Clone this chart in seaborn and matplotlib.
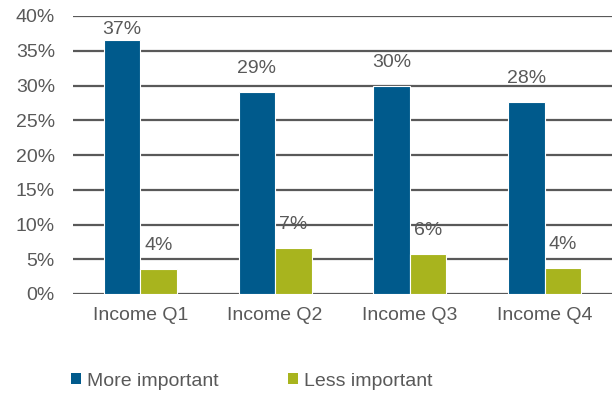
import matplotlib
matplotlib.use("Agg")
import matplotlib.pyplot as plt
from matplotlib.patches import Patch
import seaborn as sns
import pandas as pd

# Share of respondents per income quartile
categories = ["Income Q1", "Income Q2", "Income Q3", "Income Q4"]
more_important = [36.6, 29.0, 29.9, 27.6]
less_important = [3.6, 6.6, 5.8, 3.7]
series_names = ["More important", "Less important"]
y_ticks = [0, 5, 10, 15, 20, 25, 30, 35, 40]

BLUE = "#005A8C"
GREEN = "#A8B41E"
GREY = "#595959"

df = pd.DataFrame({
    "category": categories * 2,
    "value": more_important + less_important,
    "series": [series_names[0]] * 4 + [series_names[1]] * 4,
})

sns.set_theme(style="white")
plt.rcParams["font.family"] = ["Liberation Sans", "DejaVu Sans"]

fig = plt.figure(figsize=(6.14, 3.94), dpi=100)
ax = fig.add_axes([73 / 614, 1 - 294 / 394, 539 / 614, 278 / 394])

sns.barplot(data=df, x="category", y="value", hue="series",
            palette=[BLUE, GREEN], saturation=1, width=0.54, gap=0.0,
            edgecolor="white", linewidth=0.8, legend=False, ax=ax,
            zorder=3)

ax.set_ylim(0, 40)
ax.set_xlim(-0.5, 3.5)
ax.set_yticks(y_ticks)
ax.set_yticklabels([f"{t}%" for t in y_ticks])
ax.set_xlabel("")
ax.set_ylabel("")

for y in y_ticks:
    ax.axhline(y, color=GREY, lw=1.6, zorder=1)

for s in ax.spines.values():
    s.set_visible(False)

ax.tick_params(axis="y", length=0, pad=13, labelsize=14, labelcolor=GREY)
ax.tick_params(axis="x", length=0, pad=9, labelsize=14, labelcolor=GREY)

# value labels above each bar, kept inside the plotting area
for container in ax.containers:
    for bar in container:
        h = bar.get_height()
        xc = bar.get_x() + bar.get_width() / 2
        ytxt = min(h + 3.4, 38.1)
        ax.text(xc, ytxt, f"{int(h + 0.5)}%", ha="center", va="center",
                fontsize=14, color=GREY, zorder=4)

handles = [Patch(facecolor=BLUE, edgecolor="none"),
           Patch(facecolor=GREEN, edgecolor="none")]
fig.legend(handles, series_names, loc="center left",
           bbox_to_anchor=(71 / 614, 1 - 381 / 394), ncol=2, frameon=False,
           fontsize=14, labelcolor=GREY, handlelength=0.5, handleheight=0.5,
           handletextpad=0.3, columnspacing=3.6, borderpad=0, borderaxespad=0)

fig.savefig("out.png", dpi=100)
